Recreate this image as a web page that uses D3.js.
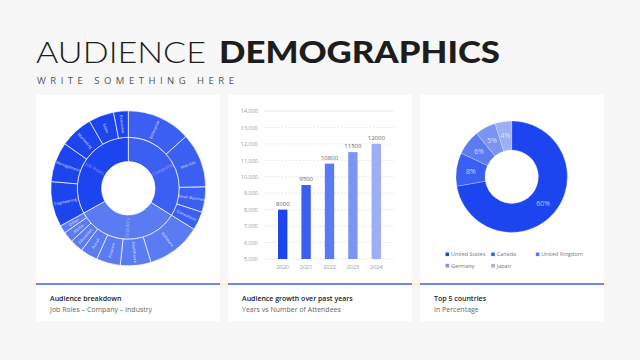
<!DOCTYPE html>
<html><head><meta charset="utf-8">
<script src="https://cdn.jsdelivr.net/npm/d3@7"></script>
<style>
html,body{margin:0;padding:0;background:#f7f7f7;}
svg{display:block;}
</style></head>
<body>
<svg id="c" width="640" height="360"></svg>
<script>
// ---------- DATA ----------
const palette = ["#1c44ef", "#3b5ff2", "#5b7bf3", "#7c95f5", "#9caff7"];

// Sunburst (Job Roles – Company – Industry), clockwise from top
const sunGroups = ["Company", "Industry", "Job Roles"];
const sunGroupColors = ["#3b5ff2", "#5b7bf2", "#1c44ef"];
const companyLabels = ["Enterprise", "Mid-size", "Small Business", "Consultant"];
const companyValues = [48, 41, 19, 14];
const industryLabels = ["Software", "Healthcare", "Finance", "Retail", "Education", "Media", "Other"];
const industryValues = [41, 23, 18, 13, 10, 8, 6];
const jobLabels = ["Engineering", "Management", "Marketing", "Sales", "Executive"];
const jobValues = [34, 30, 25, 19, 11];

// Bar chart
const years = ["2020", "2021", "2022", "2023", "2024"];
const attendees = [8000, 9500, 10800, 11500, 12000];
const yTicks = [5000, 6000, 7000, 8000, 9000, 10000, 11000, 12000, 13000, 14000];

// Donut
const countries = ["United States", "Canada", "United Kingdom", "Germany", "Japan"];
const shares = [60, 8, 6, 5, 4];

// Card captions
const cardTitles = ["Audience breakdown", "Audience growth over past years", "Top 5 countries"];
const cardSubs = ["Job Roles – Company – Industry", "Years vs Number of Attendees", "In Percentage"];

// ---------- DRAW ----------
const svg = d3.select("#c");
const font = "'Open Sans', 'Noto Sans', sans-serif";

// Header
svg.append("text").attr("x", 36).attr("y", 63)
  .attr("font-family", "Lato, sans-serif").attr("font-weight", 300)
  .attr("font-size", 30).attr("fill", "#1d1d1d")
  .attr("textLength", 170).attr("lengthAdjust", "spacingAndGlyphs")
  .text("AUDIENCE");
svg.append("text").attr("x", 219).attr("y", 63)
  .attr("font-family", "Lato, sans-serif").attr("font-weight", 900)
  .attr("font-size", 30).attr("fill", "#1d1d1d")
  .attr("textLength", 281).attr("lengthAdjust", "spacingAndGlyphs")
  .text("DEMOGRAPHICS");
svg.append("text").attr("x", 37).attr("y", 84)
  .attr("font-family", font).attr("font-size", 9.5).attr("fill", "#555")
  .attr("textLength", 197).attr("lengthAdjust", "spacing")
  .text("WRITE SOMETHING HERE");

// Cards
const cardX = [36, 228, 420];
const cardW = 184;
const lineColors = ["#7088f3", "#3d5ef0", "#3d5ef0"];
const lineW = [2, 1.5, 1.5];
cardX.forEach((x, i) => {
  svg.append("rect").attr("x", x).attr("y", 95).attr("width", cardW).attr("height", 226).attr("fill", "#fff");
  svg.append("line").attr("x1", x).attr("x2", x + cardW).attr("y1", 284).attr("y2", 284)
    .attr("stroke", lineColors[i]).attr("stroke-width", lineW[i]);
  svg.append("text").attr("x", x + 14).attr("y", 301).attr("font-family", font)
    .attr("font-weight", 600).attr("font-size", 7).attr("fill", "#222").text(cardTitles[i]);
  svg.append("text").attr("x", x + 14).attr("y", 312).attr("font-family", font)
    .attr("font-size", 7).attr("fill", "#666").text(cardSubs[i]);
});

// ---------- Sunburst ----------
(function () {
  const cx = 128.3, cy = 188.3;
  const childSets = [
    [companyLabels, companyValues],
    [industryLabels, industryValues],
    [jobLabels, jobValues]
  ];
  const data = {
    name: "root",
    children: sunGroups.map((g, i) => ({
      name: g, gi: i,
      children: childSets[i][0].map((n, j) => ({ name: n, gi: i, value: childSets[i][1][j] }))
    }))
  };
  const root = d3.hierarchy(data).sum(d => d.value || 0);
  d3.partition().size([2 * Math.PI, 3])(root);
  const radii = [0, 26.7, 51, 77.5];
  const arc = d3.arc()
    .startAngle(d => d.x0).endAngle(d => d.x1)
    .innerRadius(d => radii[d.depth]).outerRadius(d => radii[d.depth + 1]);
  const g = svg.append("g").attr("transform", `translate(${cx},${cy})`);
  const nodes = root.descendants().filter(d => d.depth > 0);
  g.selectAll("path").data(nodes).join("path")
    .attr("d", arc)
    .attr("fill", d => sunGroupColors[d.data.gi])
    .attr("stroke", "rgba(255,255,255,0.75)").attr("stroke-width", 0.9);
  g.selectAll("text").data(nodes).join("text")
    .attr("transform", d => {
      const a = (d.x0 + d.x1) / 2 * 180 / Math.PI;
      const r = (radii[d.depth] + radii[d.depth + 1]) / 2;
      return `rotate(${a - 90}) translate(${r},0) rotate(${a < 180 ? 0 : 180})`;
    })
    .attr("text-anchor", "middle").attr("dy", "0.35em")
    .attr("font-family", font).attr("font-size", d => d.depth === 1 ? 5 : 4)
    .attr("font-weight", d => d.depth === 1 ? 400 : 600)
    .attr("fill", "#fff").attr("fill-opacity", d => d.depth === 1 ? 0.45 : 0.65)
    .text(d => d.data.name);
})();

// ---------- Bar chart ----------
(function () {
  const x = d3.scaleBand().domain(years).range([264, 395]).padding(0.6);
  const y = d3.scaleLinear().domain([5000, 14000]).range([259, 111]);
  const color = d3.scaleOrdinal().domain(years).range(palette);
  // grid
  svg.append("g").selectAll("line").data(yTicks).join("line")
    .attr("x1", 264).attr("x2", 395)
    .attr("y1", d => y(d)).attr("y2", d => y(d))
    .attr("stroke", "#e3e3e3").attr("stroke-width", 0.8)
    .attr("stroke-dasharray", d => d === 14000 ? null : "2,1.5");
  const ax = svg.append("g").attr("transform", "translate(264,0)")
    .call(d3.axisLeft(y).tickValues(yTicks).tickFormat(d3.format(",")).tickSize(0).tickPadding(6));
  ax.select(".domain").remove();
  ax.selectAll("text").attr("font-family", font).attr("font-size", 5.5).attr("fill", "#999");
  const bx = svg.append("g").attr("transform", "translate(0,259)")
    .call(d3.axisBottom(x).tickSize(0).tickPadding(6));
  bx.select(".domain").remove();
  bx.selectAll("text").attr("font-family", font).attr("font-size", 5.5).attr("fill", "#999");
  svg.append("g").selectAll("rect").data(years).join("rect")
    .attr("x", d => x(d)).attr("width", x.bandwidth())
    .attr("y", (d, i) => y(attendees[i])).attr("height", (d, i) => y(5000) - y(attendees[i]))
    .attr("fill", d => color(d));
  svg.append("g").selectAll("text").data(years).join("text")
    .attr("x", d => x(d) + x.bandwidth() / 2)
    .attr("y", (d, i) => y(attendees[i]) - 4)
    .attr("text-anchor", "middle").attr("font-family", font).attr("font-size", 6).attr("fill", "#666")
    .text((d, i) => attendees[i]);
})();

// ---------- Donut ----------
(function () {
  const cx = 511.7, cy = 176.7;
  const color = d3.scaleOrdinal().domain(countries).range(palette);
  const pie = d3.pie().sort(null).value(d => d.v);
  const arcs = pie(countries.map((c, i) => ({ c, v: shares[i] })));
  const arc = d3.arc().innerRadius(26.7).outerRadius(55.7);
  const g = svg.append("g").attr("transform", `translate(${cx},${cy})`);
  g.selectAll("path").data(arcs).join("path")
    .attr("d", arc).attr("fill", d => color(d.data.c))
    .attr("stroke", "rgba(255,255,255,0.4)").attr("stroke-width", 0.6);
  g.selectAll("text").data(arcs).join("text")
    .attr("transform", d => `translate(${arc.centroid(d)})`)
    .attr("text-anchor", "middle").attr("dy", "0.35em")
    .attr("font-family", font).attr("font-size", 7).attr("fill", "#fff").attr("fill-opacity", 0.7)
    .text(d => d.data.v + "%");
  // legend
  const lx = [447, 492.7, 537.3];
  const ly = [254.3, 265.7];
  const lg = svg.append("g").selectAll("g").data(countries).join("g")
    .attr("transform", (d, i) => `translate(${lx[i % 3]},${ly[Math.floor(i / 3)]})`);
  lg.append("rect").attr("x", -1.5).attr("y", -1.8).attr("width", 3.6).attr("height", 3.6)
    .attr("fill", d => color(d));
  lg.append("text").attr("x", 4).attr("dy", "0.35em")
    .attr("font-family", font).attr("font-size", 5.5).attr("fill", "#777").text(d => d);
})();
</script>
</body></html>
